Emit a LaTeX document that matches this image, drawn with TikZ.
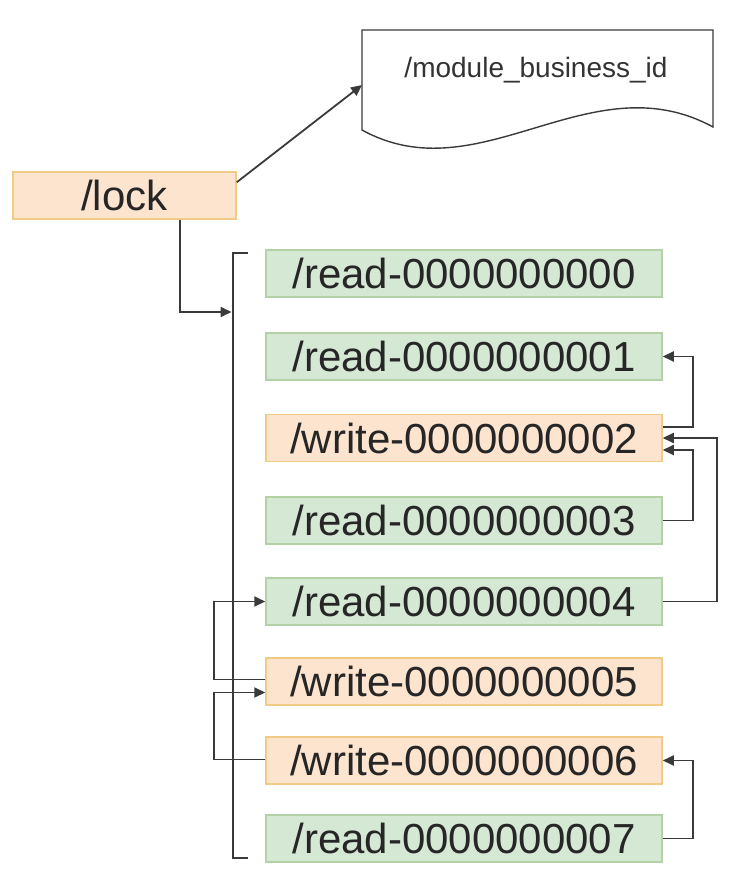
\documentclass[tikz,border=0pt]{standalone}
\usepackage{fontspec}
\setmainfont{Liberation Sans}
\usetikzlibrary{arrows.meta}
\definecolor{gfill}{HTML}{D5E8D4}
\definecolor{gdraw}{HTML}{B3D1A5}
\definecolor{ofill}{HTML}{FCE4CF}
\definecolor{odraw}{HTML}{EFCB85}
\definecolor{ln}{HTML}{3A3A3A}
\begin{document}
\begin{tikzpicture}[x=1pt,y=-1pt,
  box/.style={minimum width=396pt, minimum height=47pt, inner sep=0pt,
    font=\fontsize{42}{42}\selectfont, line width=1.5pt, text=black!85},
  rd/.style={box, fill=gfill, draw=gdraw},
  wr/.style={box, fill=ofill, draw=odraw},
  conn/.style={draw=ln, line width=1.8pt, -{Triangle[length=11pt,width=10pt]}},
  bracketline/.style={draw=ln, line width=2.6pt},
  docline/.style={draw=ln, line width=1.4pt, fill=white}
]
\useasboundingbox (0,0) rectangle (742,882);

% document shape
\draw[docline] (362,30) -- (713,30) -- (713,127)
  .. controls (590,60) and (480,195) .. (362,130) -- cycle;
\node[font=\fontsize{28}{28}\selectfont, text=black!80] (doc) at (536,70) {/module\_business\_id};
\coordinate (docL) at (362,85);

% lock
\node[wr, minimum width=223pt, font=\fontsize{42}{42}\selectfont] (lock) at (124.5,195.5) {/lock};

% children
\node[rd] (read0)  at (464,273.5) {/read-0000000000};
\node[rd] (read1)  at (464,356.5) {/read-0000000001};
\node[wr] (write2) at (464,438)   {/write-0000000002};
\node[rd] (read3)  at (464,520.5) {/read-0000000003};
\node[rd] (read4)  at (464,601.5) {/read-0000000004};
\node[wr] (write5) at (464,681.5) {/write-0000000005};
\node[wr] (write6) at (464,760.5) {/write-0000000006};
\node[rd] (read7)  at (464,838.5) {/read-0000000007};

% bracket
\coordinate (brT) at (233,253);
\coordinate (brB) at (233,858);
\draw[bracketline] ([xshift=15pt]brT) -- (brT) -- (brB) -- ([xshift=15pt]brB);
\coordinate (brIn) at (231.5,312);

% lock connectors
\draw[conn] ([yshift=-11pt]lock.north east) -- (docL);
\draw[conn] ([xshift=55.5pt]lock.south) |- (brIn);

% right-hand connectors
\draw[conn] ([yshift=11pt]write2.east) -- ++(30,0) |- (read1.east);
\draw[conn] (read3.east) -- ++(30,0) |- ([yshift=-12pt]write2.east);
\draw[conn] (read4.east) -- ++(54,0) |- (write2.east);
\draw[conn] (read7.east) -- ++(30,0) |- (write6.east);

% left-hand connectors
\draw[conn] ([yshift=2pt]write5.west) -- ++(-51,0) |- (read4.west);
\draw[conn] ([yshift=1pt]write6.west) -- ++(-51,0) |- ([yshift=-11pt]write5.west);
\end{tikzpicture}
\end{document}
